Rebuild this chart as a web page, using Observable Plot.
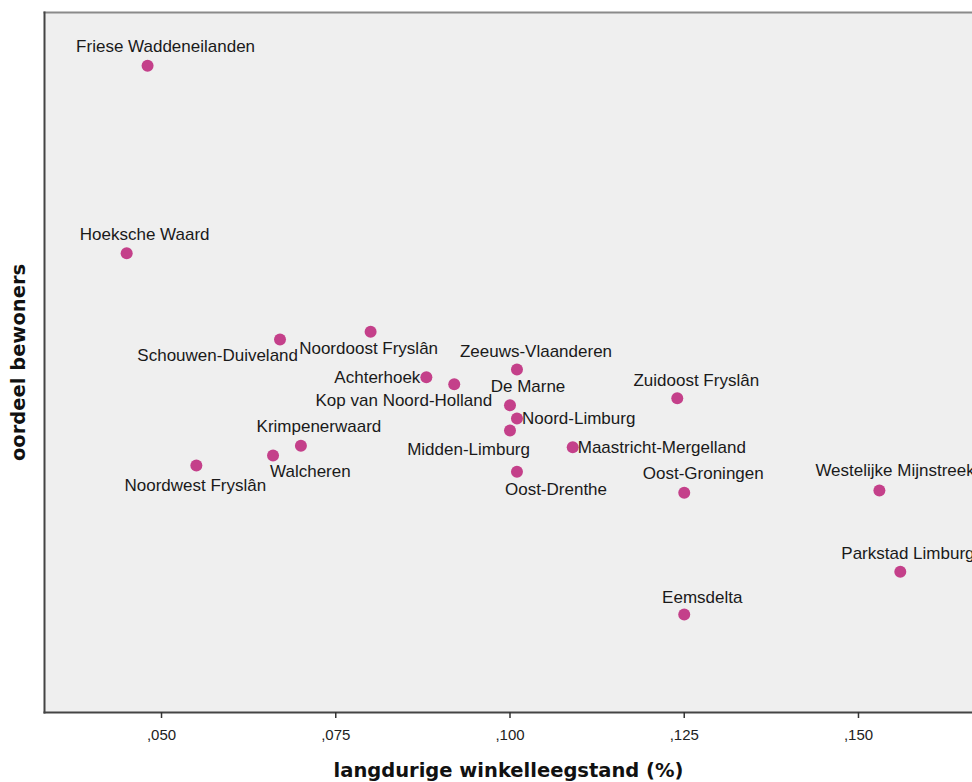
<!DOCTYPE html>
<html><head><meta charset="utf-8">
<script src="https://cdn.jsdelivr.net/npm/d3@7"></script>
<script src="https://cdn.jsdelivr.net/npm/@observablehq/plot@0.6"></script>
<style>
html,body{margin:0;padding:0;background:#fff}
#chart svg{display:block}
</style>
</head><body><div id="chart"></div>
<script>
const regions = [
  "Friese Waddeneilanden", "Hoeksche Waard", "Schouwen-Duiveland", "Noordoost Fryslân",
  "Zeeuws-Vlaanderen", "Achterhoek", "Kop van Noord-Holland", "De Marne",
  "Noord-Limburg", "Midden-Limburg", "Maastricht-Mergelland", "Zuidoost Fryslân",
  "Krimpenerwaard", "Walcheren", "Noordwest Fryslân", "Oost-Drenthe",
  "Oost-Groningen", "Westelijke Mijnstreek", "Parkstad Limburg", "Eemsdelta"
];
const vacancy = [
  0.048, 0.045, 0.067, 0.080,
  0.101, 0.088, 0.092, 0.100,
  0.101, 0.100, 0.109, 0.124,
  0.070, 0.066, 0.055, 0.101,
  0.125, 0.153, 0.156, 0.125
];
const rating = [
  92.4, 65.6, 53.3, 54.4,
  49.0, 47.9, 46.9, 43.9,
  42.0, 40.3, 37.9, 44.9,
  38.1, 36.7, 35.3, 34.4,
  31.4, 31.7, 20.1, 14.0
];
const xTicks = [0.050, 0.075, 0.100, 0.125, 0.150];
const xTickLabels = [",050", ",075", ",100", ",125", ",150"];
const xLabel = "langdurige winkelleegstand (%)";
const yLabel = "oordeel bewoners";

// label placement (anchor, dx, dy) per region
const placement = {
  "Friese Waddeneilanden": ["middle", 18, -19],
  "Hoeksche Waard": ["middle", 18, -19],
  "Schouwen-Duiveland": ["end", 18, 16],
  "Noordoost Fryslân": ["middle", -2, 17],
  "Zeeuws-Vlaanderen": ["middle", 19, -18],
  "Achterhoek": ["end", -6, 0],
  "Kop van Noord-Holland": ["end", 38, 16],
  "De Marne": ["middle", 18, -19],
  "Noord-Limburg": ["start", 5, 0],
  "Midden-Limburg": ["end", 20, 19],
  "Maastricht-Mergelland": ["start", 5, 0],
  "Zuidoost Fryslân": ["middle", 19, -18],
  "Krimpenerwaard": ["middle", 18, -19],
  "Walcheren": ["start", -3, 16],
  "Noordwest Fryslân": ["middle", -1, 20],
  "Oost-Drenthe": ["start", -12, 18],
  "Oost-Groningen": ["middle", 19, -19],
  "Westelijke Mijnstreek": ["start", -64, -20],
  "Parkstad Limburg": ["start", -59, -18],
  "Eemsdelta": ["middle", 18, -17]
};

const data = regions.map((r, i) => ({region: r, x: vacancy[i], y: rating[i]}));

const labelMarks = data.map(d => {
  const [anchor, dx, dy] = placement[d.region];
  return Plot.text([d], {
    x: "x", y: "y", text: "region",
    textAnchor: anchor, dx, dy,
    fill: "#1a1a1a", fontSize: 17
  });
});

const chart = Plot.plot({
  width: 972,
  height: 782,
  marginLeft: 44,
  marginRight: 0,
  marginTop: 12,
  marginBottom: 70,
  style: {fontFamily: "'Liberation Sans', Arial, sans-serif", background: "#fff", color: "#222"},
  x: {domain: [0.03321, 0.16636], ticks: xTicks},
  y: {domain: [0, 100], axis: null},
  marks: [
    Plot.frame({fill: "#efefef", stroke: null}),
    Plot.frame({anchor: "top", stroke: "#8a8a8a", strokeWidth: 2}),
    Plot.frame({anchor: "left", stroke: "#444", strokeWidth: 2}),
    Plot.frame({anchor: "bottom", stroke: "#444", strokeWidth: 2}),
    Plot.axisX({
      ticks: xTicks,
      tickFormat: d => xTickLabels[xTicks.indexOf(d)],
      tickSize: 6, tickPadding: 11, fontSize: 15, stroke: "#333", strokeWidth: 1.5,
      label: null, fill: "#222"
    }),
    Plot.dot(data, {x: "x", y: "y", r: 6, fill: "#c4408a", stroke: null}),
    ...labelMarks,
    Plot.text([xLabel], {frameAnchor: "bottom", dy: 64, fontSize: 19.5, fontWeight: "bold",
      fontFamily: "'DejaVu Sans', Verdana, sans-serif", fill: "#111"}),
    Plot.text([yLabel], {frameAnchor: "left", textAnchor: "middle", dx: -26, rotate: -90, fontSize: 19.5, fontWeight: "bold",
      fontFamily: "'DejaVu Sans', Verdana, sans-serif", fill: "#111"})
  ]
});
document.getElementById("chart").appendChild(chart);
</script>
</body></html>
